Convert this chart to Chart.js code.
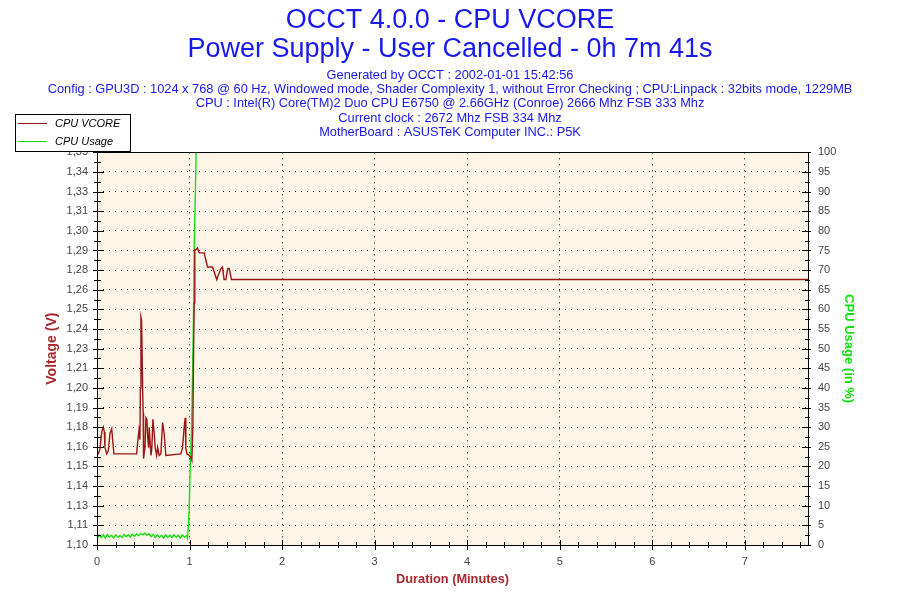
<!DOCTYPE html>
<html>
<head>
<meta charset="utf-8">
<script src="https://cdn.jsdelivr.net/npm/chart.js@4.4.1/dist/chart.umd.min.js"></script>
<style>
  html, body { margin: 0; padding: 0; background: #fff; }
</style>
</head>
<body>
<canvas id="chart" width="900" height="600"></canvas>
<script>
// test length 7m41s
const durationMax = 7 + 41 / 60

// CPU VCORE (V)
const vcoreTime = [0, 0.014, 0.032, 0.051, 0.068, 0.079, 0.086, 0.105, 0.122, 0.140,
  0.159, 0.169, 0.183, 0.428, 0.439, 0.453, 0.464, 0.469, 0.475, 0.482,
  0.493, 0.499, 0.503, 0.518, 0.529, 0.539, 0.547, 0.558, 0.564, 0.583,
  0.593, 0.604, 0.618, 0.629, 0.644, 0.655, 0.672, 0.690, 0.709, 0.726,
  0.744, 0.906, 0.924, 0.942, 0.953, 0.960, 0.971, 0.996, 1.014, 1.025,
  1.036, 1.043, 1.050, 1.057, 1.068, 1.086, 1.104, 1.122, 1.158, 1.194,
  1.248, 1.294, 1.338, 1.356, 1.373, 1.392, 1.413, 1.429, 1.453, 7.683]
const vcoreVolts = [1.158, 1.158, 1.161, 1.172, 1.175, 1.172, 1.162, 1.158, 1.160, 1.171,
  1.174, 1.167, 1.158, 1.158, 1.165, 1.173, 1.167, 1.200, 1.245, 1.243,
  1.200, 1.184, 1.155, 1.162, 1.181, 1.180, 1.169, 1.162, 1.175, 1.157,
  1.162, 1.180, 1.171, 1.162, 1.157, 1.162, 1.157, 1.158, 1.178, 1.171,
  1.157, 1.158, 1.162, 1.175, 1.181, 1.162, 1.158, 1.157, 1.156, 1.154,
  1.175, 1.220, 1.254, 1.288, 1.288, 1.289, 1.286, 1.286, 1.286, 1.277,
  1.277, 1.269, 1.276, 1.277, 1.269, 1.269, 1.276, 1.276, 1.269, 1.269]

// CPU usage (%)
const usageTime = [0, 0.022, 0.045, 0.067, 0.09, 0.112, 0.135, 0.157, 0.18, 0.202,
  0.225, 0.247, 0.27, 0.292, 0.315, 0.337, 0.36, 0.382, 0.405, 0.427,
  0.45, 0.472, 0.495, 0.517, 0.54, 0.562, 0.585, 0.607, 0.63, 0.652,
  0.675, 0.697, 0.72, 0.742, 0.765, 0.787, 0.81, 0.832, 0.855, 0.877,
  0.9, 0.922, 0.945, 0.967, 0.978, 0.985, 0.996, 1.006, 1.021, 1.032,
  1.043, 1.050, 1.064, 1.071, 7.683]
const usageValues = [1.6, 2.5, 1.9, 2.6, 1.8, 2.7, 2.0, 2.5, 1.8, 2.6,
  2.0, 2.4, 1.9, 2.7, 2.1, 2.6, 2.0, 2.7, 2.2, 2.8,
  2.4, 2.9, 2.6, 3.0, 2.5, 2.8, 2.1, 2.7, 1.9, 2.6,
  2.0, 2.5, 1.8, 2.6, 2.0, 2.5, 1.9, 2.6, 2.0, 2.5,
  1.8, 2.6, 2.0, 2.4, 1.7, 3.8, 8.9, 19, 29, 42,
  58, 75, 91, 100, 100]

// axis ticks
const minuteTicks = [0, 1, 2, 3, 4, 5, 6, 7]
const voltMin = 1.10
const voltMax = 1.35
const voltLabels = ['1,10', '1,11', '1,13', '1,14', '1,15', '1,16', '1,18', '1,19', '1,20', '1,21',
  '1,23', '1,24', '1,25', '1,26', '1,28', '1,29', '1,30', '1,31', '1,33', '1,34', '1,35']
const usageTicks = [0, 5, 10, 15, 20, 25, 30, 35, 40, 45, 50, 55, 60, 65, 70, 75, 80, 85, 90, 95, 100]

const titleLines = ['OCCT 4.0.0 - CPU VCORE', 'Power Supply - User Cancelled - 0h 7m 41s']
const infoLines = [
  'Generated by OCCT : 2002-01-01 15:42:56',
  'Config : GPU3D : 1024 x 768 @ 60 Hz, Windowed mode, Shader Complexity 1, without Error Checking ; CPU:Linpack : 32bits mode, 1229MB',
  'CPU : Intel(R) Core(TM)2 Duo CPU E6750 @ 2.66GHz (Conroe) 2666 Mhz FSB 333 Mhz',
  'Current clock : 2672 Mhz FSB 334 Mhz',
  'MotherBoard : ASUSTeK Computer INC.: P5K'
]

const blue = '#1818f0'
const brown = '#a8282c'
const vcoreColor = '#9a1616'
const usageColor = '#11e011'
const labelGrey = '#444'
const plotBg = '#fdf6e8'

Chart.defaults.font.family = '"Liberation Sans", Arial, sans-serif'

const toPoints = (xs, ys) => xs.map((x, i) => ({ x: x, y: ys[i] }))

// background, frame with crossing ticks, and the boxed legend in the top left
const occtFrame = {
  id: 'occtFrame',
  beforeDatasetsDraw(chart) {
    const { ctx, chartArea: a } = chart
    ctx.save()
    ctx.fillStyle = plotBg
    ctx.globalCompositeOperation = 'destination-over'
    ctx.fillRect(a.left, a.top, a.right - a.left, a.bottom - a.top)
    ctx.restore()
  },
  afterDraw(chart) {
    const { ctx, chartArea: a, scales } = chart
    const px = v => Math.round(v) + 0.5
    ctx.save()
    ctx.strokeStyle = '#000'
    ctx.lineWidth = 1
    ctx.strokeRect(px(a.left), px(a.top), Math.round(a.right - a.left), Math.round(a.bottom - a.top))

    ctx.beginPath()
    const hTick = (y, x0, x1) => { ctx.moveTo(x0, px(y)); ctx.lineTo(x1, px(y)) }
    const vTick = (x, y0, y1) => { ctx.moveTo(px(x), y0); ctx.lineTo(px(x), y1) }

    // left and right value axes
    const yl = scales.y
    yl.ticks.forEach((t, i) => {
      const y = yl.getPixelForValue(t.value)
      hTick(y, a.left - 4, a.left + 7)
      const next = yl.ticks[i + 1]
      if (next) hTick(yl.getPixelForValue((t.value + next.value) / 2), a.left - 3, a.left + 4)
    })
    const yr = scales.y1
    yr.ticks.forEach((t, i) => {
      const y = yr.getPixelForValue(t.value)
      hTick(y, a.right - 6, a.right + 3)
      const next = yr.ticks[i + 1]
      if (next) hTick(yr.getPixelForValue((t.value + next.value) / 2), a.right - 3, a.right + 2)
    })
    // time axis, minor every 0.2 min
    const xs = scales.x
    xs.ticks.forEach(t => vTick(xs.getPixelForValue(t.value), a.bottom - 5, a.bottom + 5))
    for (let m = 0.2; m < xs.max; m += 0.2) {
      if (Math.abs(m - Math.round(m)) < 0.01) continue
      vTick(xs.getPixelForValue(m), a.bottom - 3, a.bottom + 3)
    }
    ctx.stroke()

    // legend
    ctx.fillStyle = '#fff'
    ctx.fillRect(15, 114, 115, 37)
    ctx.strokeRect(15.5, 114.5, 115, 37)
    ctx.font = 'italic 11px "Liberation Sans", Arial, sans-serif'
    ctx.textBaseline = 'middle'
    chart.data.datasets.forEach((ds, i) => {
      const y = 123.5 + i * 18
      ctx.strokeStyle = ds.borderColor
      ctx.beginPath()
      ctx.moveTo(18, y)
      ctx.lineTo(47, y)
      ctx.stroke()
      ctx.fillStyle = '#000'
      ctx.fillText(ds.label, 55, y)
    })
    ctx.restore()
  }
}

new Chart(document.getElementById('chart'), {
  type: 'line',
  data: {
    datasets: [{
      label: 'CPU VCORE',
      data: toPoints(vcoreTime, vcoreVolts),
      yAxisID: 'y',
      borderColor: vcoreColor,
      borderWidth: 1.4,
      pointRadius: 0,
      tension: 0
    }, {
      label: 'CPU Usage',
      data: toPoints(usageTime, usageValues),
      yAxisID: 'y1',
      borderColor: usageColor,
      borderWidth: 1.4,
      pointRadius: 0,
      tension: 0
    }]
  },
  options: {
    responsive: false,
    animation: false,
    layout: { padding: 0 },
    plugins: {
      legend: { display: false },
      tooltip: { enabled: false },
      title: {
        display: true,
        text: titleLines,
        color: blue,
        font: { size: 27, weight: 'normal', lineHeight: 1.08 },
        padding: { top: 6, bottom: 0 }
      },
      subtitle: {
        display: true,
        text: infoLines,
        color: blue,
        font: { size: 12.8, lineHeight: 1.113 },
        padding: { top: 4, bottom: 12.75 }
      }
    },
    scales: {
      x: {
        type: 'linear',
        min: 0,
        max: durationMax,
        afterBuildTicks: scale => { scale.ticks = minuteTicks.map(v => ({ value: v })) },
        afterFit: scale => { scale.height = 55 },
        ticks: { color: labelGrey, font: { size: 11 }, padding: 10, maxRotation: 0, autoSkip: false },
        grid: { color: '#000', lineWidth: 1, drawTicks: false },
        border: { display: false, dash: [1, 5] },
        title: {
          display: true,
          text: 'Duration (Minutes)',
          color: brown,
          font: { size: 12.8, weight: 'bold', lineHeight: 1.2 },
          padding: { top: 0, bottom: 13 }
        }
      },
      y: {
        type: 'linear',
        position: 'left',
        min: voltMin,
        max: voltMax,
        afterBuildTicks: scale => {
          const step = (voltMax - voltMin) / (voltLabels.length - 1)
          scale.ticks = voltLabels.map((l, i) => ({ value: voltMin + i * step }))
        },
        afterFit: scale => { scale.width = 97 },
        ticks: {
          color: labelGrey,
          font: { size: 11 },
          padding: 9,
          autoSkip: false,
          callback: (value, index) => voltLabels[index]
        },
        grid: { color: '#000', lineWidth: 1, drawTicks: false },
        border: { display: false, dash: [1, 5] },
        title: {
          display: true,
          text: 'Voltage (V)',
          color: brown,
          font: { size: 14, weight: 'bold', lineHeight: 1.2 },
          padding: { top: 44, bottom: 0 }
        }
      },
      y1: {
        type: 'linear',
        position: 'right',
        min: 0,
        max: 100,
        afterBuildTicks: scale => { scale.ticks = usageTicks.map(v => ({ value: v })) },
        afterFit: scale => { scale.width = 92 },
        ticks: { color: labelGrey, font: { size: 11 }, padding: 10, autoSkip: false },
        grid: { display: false, drawTicks: false },
        border: { display: false },
        title: {
          display: true,
          text: 'CPU Usage (in %)',
          color: usageColor,
          font: { size: 13, weight: 'bold', lineHeight: 1.2 },
          padding: { top: 44, bottom: 0 }
        }
      }
    }
  },
  plugins: [occtFrame]
})
</script>
</body>
</html>
